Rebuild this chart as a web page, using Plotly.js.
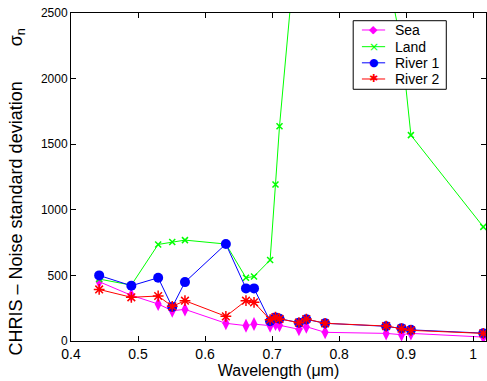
<!DOCTYPE html>
<html>
<head>
<meta charset="utf-8">
<script src="https://cdn.plot.ly/plotly-3.0.1.min.js"></script>
<style>html,body{margin:0;padding:0;background:#fff;}#chart{width:487px;height:381px;}</style>
</head>
<body>
<div id="chart"></div>
<script>
const wavelength = [0.442,0.490,0.530,0.551,0.570,0.631,0.661,0.673,0.697,0.705,0.711,0.740,0.751,0.779,0.870,0.893,0.907,1.015];
const sea    = [452,348,282,231,241,135,117,129,117,129,120,89,109,66,58,48,58,30];
const land   = [472,426,736,754,769,739,482,492,617,1193,1637,3270,3500,3300,2850,2250,1569,870];
const river1 = [500,421,482,259,449,739,401,401,150,180,170,140,165,135,112,98,85,60];
const river2 = [393,333,343,264,307,188,307,295,162,182,168,140,167,135,114,94,81,58];
const seriesNames = ['Sea','Land','River 1','River 2'];
const seriesColors = ['#ff00ff','#00ff00','#0000ff','#ff0000'];
const legendGlyphs = ['◆','×','●','✱'];
const xTicks = [0.4,0.5,0.6,0.7,0.8,0.9,1];
const xTickText = ['0.4','0.5','0.6','0.7','0.8','0.9','1'];
const yTicks = [0,500,1000,1500,2000,2500];

const font = 'Liberation Sans, Arial, sans-serif';
const traces = [
  {x: wavelength, y: sea, name: seriesNames[0], mode: 'lines+markers',
   line: {color: seriesColors[0], width: 1},
   marker: {symbol: 'diamond-tall', size: 10, color: seriesColors[0]}},
  {x: wavelength, y: land, name: seriesNames[1], mode: 'lines+markers',
   line: {color: seriesColors[1], width: 1},
   marker: {symbol: 'x-thin-open', size: 6, color: seriesColors[1], line: {color: seriesColors[1], width: 1.5}}},
  {x: wavelength, y: river1, name: seriesNames[2], mode: 'lines+markers',
   line: {color: seriesColors[2], width: 1},
   marker: {symbol: 'circle', size: 10, color: seriesColors[2]}},
  {x: wavelength, y: river2, name: seriesNames[3], mode: 'lines+markers',
   line: {color: seriesColors[3], width: 1},
   marker: {symbol: 'asterisk-open', size: 9, color: seriesColors[3], line: {color: seriesColors[3], width: 1.5}}}
];

// custom legend (box, line samples, glyphs, labels) in paper coordinates
const lgBox = {x0: 0.680, x1: 0.9043, y0: 0.7674, y1: 0.9765};
const lgRows = [0.9482, 0.8973, 0.8481, 0.7988];
const shapes = [{type: 'rect', xref: 'paper', yref: 'paper', layer: 'above',
  x0: lgBox.x0, x1: lgBox.x1, y0: lgBox.y0, y1: lgBox.y1,
  fillcolor: '#fff', line: {color: '#000', width: 1}}];
const annotations = [{
  text: 'CHRIS – Noise standard deviation &nbsp;&nbsp;&nbsp;&nbsp;&nbsp;&nbsp;σ<sub>n</sub>',
  textangle: -90, xref: 'paper', yref: 'paper',
  x: -0.13, y: 0.453, xanchor: 'center', yanchor: 'middle', showarrow: false,
  font: {family: font, size: 18, color: '#000'}
}];
seriesNames.forEach((nm, i) => {
  shapes.push({type: 'line', xref: 'paper', yref: 'paper', layer: 'above',
    x0: 0.701, x1: 0.757, y0: lgRows[i], y1: lgRows[i],
    line: {color: seriesColors[i], width: 1}});
  annotations.push({text: legendGlyphs[i], xref: 'paper', yref: 'paper',
    x: 0.729, y: lgRows[i], xanchor: 'center', yanchor: 'middle', showarrow: false,
    font: {family: 'DejaVu Sans', size: i === 1 ? 12 : 11, color: seriesColors[i]}});
  annotations.push({text: nm, xref: 'paper', yref: 'paper',
    x: 0.775, y: lgRows[i], xanchor: 'left', yanchor: 'middle', showarrow: false,
    font: {family: font, size: 14, color: '#000'}});
});

const layout = {
  width: 487, height: 381,
  margin: {l: 71, r: 1, t: 13, b: 40},
  paper_bgcolor: '#fff', plot_bgcolor: '#fff',
  font: {family: font, color: '#000'},
  showlegend: false,
  xaxis: {range: [0.4, 1.019], tickvals: xTicks, ticktext: xTickText,
          ticks: 'inside', ticklen: 5, tickcolor: '#000', showline: true, linecolor: '#000',
          linewidth: 1, mirror: 'ticks', showgrid: false, zeroline: false,
          tickfont: {family: font, size: 14, color: '#000'},
          title: {text: 'Wavelength (μm)', font: {family: font, size: 16, color: '#000'}, standoff: 2}},
  yaxis: {range: [0, 2500], tickvals: yTicks,
          ticks: 'inside', ticklen: 5, tickcolor: '#000', showline: true, linecolor: '#000',
          linewidth: 1, mirror: 'ticks', showgrid: false, zeroline: false,
          tickfont: {family: font, size: 12, color: '#000'}},
  shapes: shapes,
  annotations: annotations
};
Plotly.newPlot('chart', traces, layout, {displayModeBar: false, staticPlot: true});
</script>
</body>
</html>
